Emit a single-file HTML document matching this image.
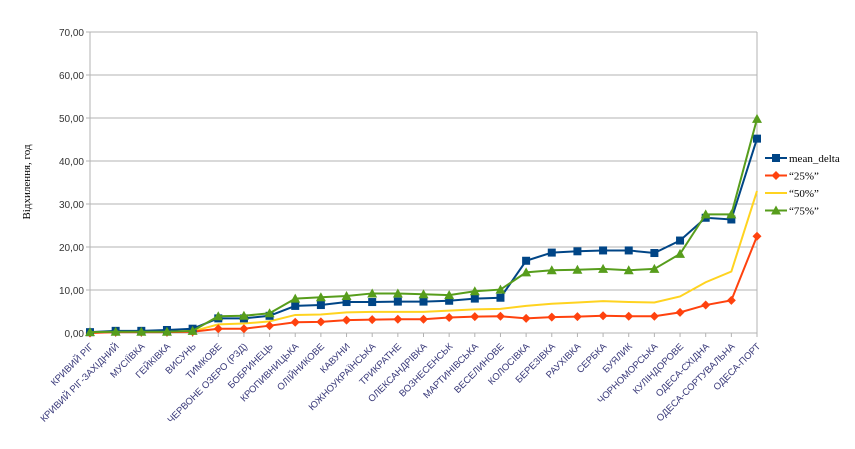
<!DOCTYPE html>
<html><head><meta charset="utf-8"><style>
body{margin:0;background:#fff;width:855px;height:444px;overflow:hidden}
svg{font-family:"Liberation Sans",sans-serif}
</style></head><body>
<svg id="c" width="855" height="444"></svg>
<script>
const categories=["КРИВИЙ РІГ","КРИВИЙ РІГ-ЗАХІДНИЙ","МУСІЇВКА","ГЕЙКІВКА","ВИСУНЬ","ТИМКОВЕ","ЧЕРВОНЕ ОЗЕРО (РЗД)","БОБРИНЕЦЬ","КРОПИВНИЦЬКА","ОЛІЙНИКОВЕ","КАВУНИ","ЮЖНОУКРАЇНСЬКА","ТРИКРАТНЕ","ОЛЕКСАНДРІВКА","ВОЗНЕСЕНСЬК","МАРТИНІВСЬКА","ВЕСЕЛИНОВЕ","КОЛОСІВКА","БЕРЕЗІВКА","РАУХІВКА","СЕРБКА","БУЯЛИК","ЧОРНОМОРСЬКА","КУЛІНДОРОВЕ","ОДЕСА-СХІДНА","ОДЕСА-СОРТУВАЛЬНА","ОДЕСА-ПОРТ"];
const meanDelta=[0.2,0.5,0.5,0.7,1.0,3.4,3.4,4.0,6.3,6.5,7.2,7.2,7.3,7.3,7.5,8.0,8.2,16.8,18.7,19.0,19.2,19.2,18.6,21.5,26.8,26.4,45.2];
const p25=[0,0.2,0.2,0.2,0.3,1.0,1.0,1.7,2.5,2.6,3.0,3.1,3.2,3.2,3.6,3.8,3.9,3.4,3.7,3.8,4.0,3.9,3.9,4.8,6.5,7.6,22.5];
const p50=[0,0.3,0.3,0.3,0.4,2.0,2.2,2.7,4.2,4.3,4.8,4.9,4.9,4.9,5.2,5.5,5.6,6.3,6.8,7.1,7.4,7.2,7.1,8.5,11.8,14.3,33.0];
const p75=[0.2,0.3,0.3,0.3,0.5,3.9,4.0,4.6,8.0,8.3,8.6,9.2,9.2,9.0,8.8,9.7,10.1,14.1,14.6,14.7,14.9,14.6,14.9,18.4,27.6,27.6,49.8];
const yTicks=[0,10,20,30,40,50,60,70];
const seriesNames=["mean_delta","“25%”","“50%”","“75%”"];

const NS="http://www.w3.org/2000/svg",svg=document.getElementById('c');
const X0=90,X1=757,Y0=333,Y1=32;
const x=i=>X0+i*(X1-X0)/(categories.length-1);
const y=v=>Y0-(v/70)*(Y0-Y1);
function mk(t,a,p){const e=document.createElementNS(NS,t);for(const k in a)e.setAttribute(k,a[k]);(p||svg).appendChild(e);return e;}
yTicks.forEach(v=>{
  const l=mk('line',{x1:X0-4,x2:X1,y1:y(v),y2:y(v),stroke:'#b3b3b3','stroke-width':1});
  
  
  const t=mk('text',{x:X0-6,y:y(v)+4,'text-anchor':'end','font-size':10,fill:'#333'});
  t.textContent=v.toFixed(2).replace('.',',');
  
  
});
mk('line',{x1:X0,x2:X0,y1:Y1,y2:Y0+4,stroke:'#b3b3b3'});
mk('line',{x1:X1,x2:X1,y1:Y1,y2:Y0+4,stroke:'#b3b3b3'});
categories.forEach((c,i)=>{
  mk('line',{x1:x(i),x2:x(i),y1:Y0,y2:Y0+4,stroke:'#b3b3b3'});
  const t=mk('text',{x:x(i)+4,y:Y0+14,'text-anchor':'end','font-size':9.5,fill:'#3a3a7a',transform:`rotate(-45 ${x(i)+4} ${Y0+14})`});
  t.textContent=c;
  
  
});
const yt=mk('text',{x:30,y:182,'text-anchor':'middle','font-size':11,'font-family':'Liberation Serif',transform:'rotate(-90 30 182)'});
yt.textContent='Відхилення, год';



const data=[meanDelta,p25,p50,p75],colors=['#004586','#ff420e','#ffd320','#579d1c'],shapes=['sq','dia','none','tri'];
function marker(g,s,cx,cy,col){
  if(s==='sq')return mk('rect',{x:cx-4,y:cy-4,width:8,height:8,fill:col},g);
  if(s==='dia')return mk('polygon',{points:`${cx},${cy-4.5} ${cx+4.5},${cy} ${cx},${cy+4.5} ${cx-4.5},${cy}`,fill:col},g);
  if(s==='tri')return mk('polygon',{points:`${cx},${cy-5} ${cx+5},${cy+4} ${cx-5},${cy+4}`,fill:col},g);
}
[2,1,0,3].forEach(k=>{
  const g=mk('g',{});
  
  
  mk('polyline',{points:data[k].map((v,i)=>x(i)+','+y(v)).join(' '),fill:'none',stroke:colors[k],'stroke-width':2},g);
  data[k].forEach((v,i)=>{const m=marker(g,shapes[k],x(i),y(v),colors[k]);if(m){}});
});
seriesNames.forEach((n,k)=>{
  const g=mk('g',{});
  
  
  const ly=158+k*17.5;
  mk('line',{x1:765,x2:787,y1:ly,y2:ly,stroke:colors[k],'stroke-width':2},g);
  marker(g,shapes[k],776,ly,colors[k]);
  const t=mk('text',{x:789,y:ly+4,'font-size':11,'font-family':'Liberation Serif'},g);
  t.textContent=n;
});
</script>
</body></html>
